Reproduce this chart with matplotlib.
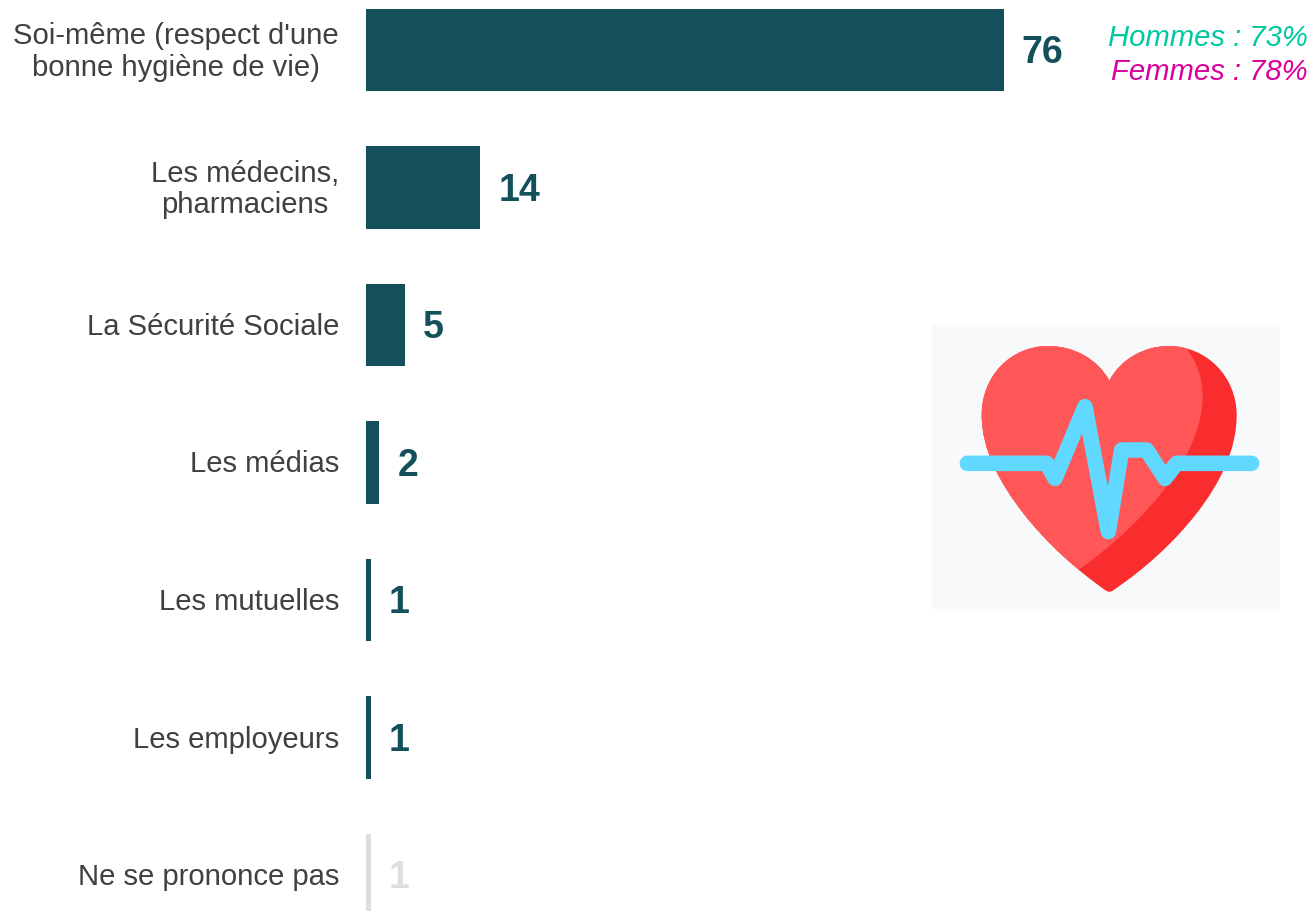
import matplotlib
matplotlib.use("Agg")
import matplotlib.pyplot as plt
from matplotlib.patches import PathPatch, Rectangle
from matplotlib.path import Path
from matplotlib.transforms import Affine2D

plt.rcParams['font.family'] = ['Liberation Sans', 'DejaVu Sans']

# data
categories = ["Soi-même (respect d'une\nbonne hygiène de vie)", "Les médecins,\npharmaciens",
              "La Sécurité Sociale", "Les médias", "Les mutuelles", "Les employeurs",
              "Ne se prononce pas"]
bar_values = [76, 13.6, 4.6, 1.6, 0.6, 0.6, 0.6]
shown_values = [76, 14, 5, 2, 1, 1, 1]
bar_colors = ["#14505A"] * 6 + ["#DEDEDE"]
gender_notes = ["Hommes : 73%", "Femmes : 78%"]
gender_colors = ["#00C9A0", "#D9009B"]

W, H = 1313, 911
DARK = "#404040"

fig = plt.figure(figsize=(W / 100, H / 100), dpi=100)
ax = fig.add_axes([366 / W, 0, (W - 366) / W, 1])

ypos = list(range(len(categories)))
ax.barh(ypos, bar_values, height=0.6, color=bar_colors)
ax.set_xlim(0, (W - 366) / 8.39)
ax.set_ylim((H - 50) / 137.5, -50 / 137.5)

ax.set_yticks(ypos)
ax.set_yticklabels(categories, fontsize=21.1, color=DARK, ha="right", multialignment="center",
                   linespacing=1.17)
ax.tick_params(axis="y", length=0, pad=19.5)
ax.xaxis.set_visible(False)
for s in ax.spines.values():
    s.set_visible(False)
# two-line labels sit a bit higher than the default, the others by a pixel
for lab in ax.get_yticklabels():
    shift = 3 if "\n" in lab.get_text() else 1
    lab.set_transform(lab.get_transform() + Affine2D().translate(0, shift))

for y, v, shown, c in zip(ypos, bar_values, shown_values, bar_colors):
    ax.annotate(str(shown), (v, y), xytext=(13, 0.7), textcoords="offset points", fontsize=27,
                fontweight="bold", color=c, va="center_baseline", ha="left")

# gender split next to the first bar
for note, c, py in zip(gender_notes, gender_colors, [37.5, 72.5]):
    fig.text(1308 / W, 1 - py / H, note, fontsize=21.1, style="italic", color=c,
             ha="right", va="center")

# heart icon
icon = fig.add_axes([932 / W, 1 - 609 / H, 348 / W, 284 / H])
icon.set_xlim(36, 1080)
icon.set_ylim(897, 45)
icon.axis("off")
icon.add_patch(Rectangle((36, 45), 1044, 852, color="#F8F9FB", lw=0))

M, C, L, Z = Path.MOVETO, Path.CURVE4, Path.LINETO, Path.CLOSEPOLY
heart_pts = [(568, 212),
             (535, 150), (465, 108), (385, 108),
             (270, 108), (185, 200), (185, 315),
             (185, 420), (240, 520), (310, 610),
             (380, 700), (470, 780), (555, 840),
             (563, 847), (573, 847), (581, 840),
             (670, 780), (760, 700), (830, 610),
             (900, 520), (950, 420), (950, 315),
             (950, 200), (860, 108), (745, 108),
             (670, 108), (600, 150), (568, 212),
             (568, 212)]
heart_codes = [M] + [C] * 27 + [Z]
heart = PathPatch(Path(heart_pts, heart_codes), facecolor="#F92D2D", lw=0)
icon.add_patch(heart)

light_pts = [(795, 110), (835, 160), (848, 210), (848, 260),
             (848, 420), (700, 620), (478, 778),
             (100, 800), (100, 50), (795, 50), (795, 110)]
light_codes = [M, C, C, C, C, C, C, L, L, L, Z]
light = PathPatch(Path(light_pts, light_codes), facecolor="#FF5757", lw=0)
icon.add_patch(light)
light.set_clip_path(heart)

pulse_x = [142, 380, 405, 495, 565, 605, 680, 735, 770, 995]
pulse_y = [460, 460, 505, 290, 665, 420, 420, 505, 460, 460]
icon.plot(pulse_x, pulse_y, color="#60D8FF", lw=11.2, solid_joinstyle="round", solid_capstyle="round")

fig.savefig("out.png", dpi=100)
